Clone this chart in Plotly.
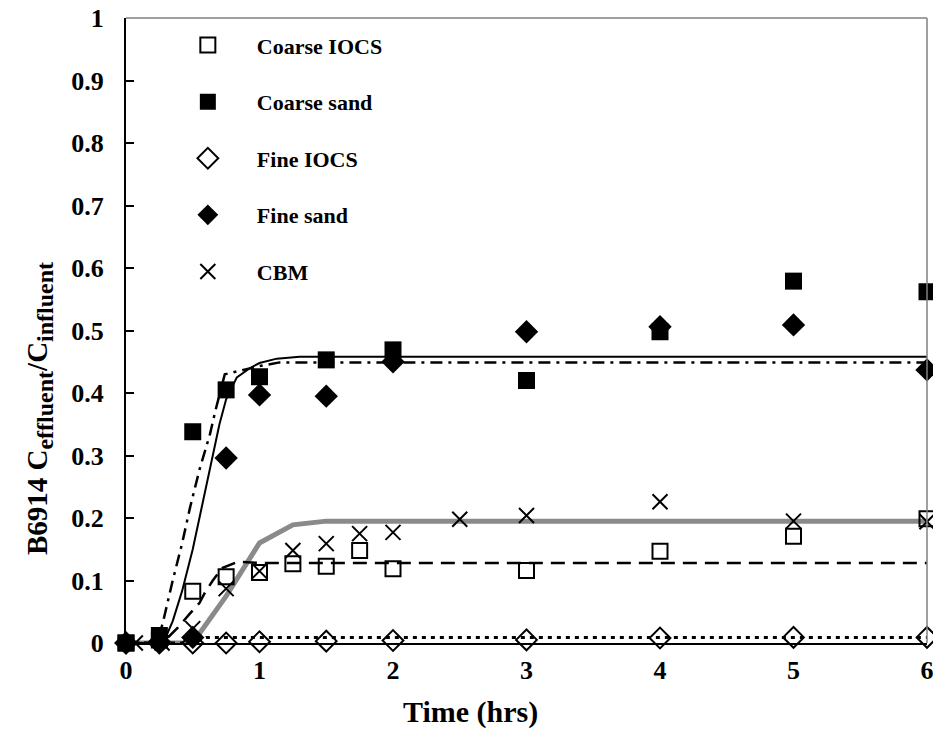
import plotly.graph_objects as go

# ---- data ----
t_coarse_iocs = [0, 0.25, 0.5, 0.75, 1, 1.25, 1.5, 1.75, 2, 3, 4, 5, 6]
y_coarse_iocs = [0, 0.005, 0.083, 0.106, 0.113, 0.127, 0.123, 0.148, 0.119, 0.116, 0.147, 0.171, 0.199]

t_coarse_sand = [0, 0.25, 0.5, 0.75, 1, 1.5, 2, 3, 4, 5, 6]
y_coarse_sand = [0, 0.012, 0.338, 0.405, 0.426, 0.453, 0.469, 0.42, 0.498, 0.579, 0.562]

t_fine_iocs = [0, 0.25, 0.5, 0.75, 1, 1.5, 2, 3, 4, 5, 6]
y_fine_iocs = [0, 0, 0, 0, 0.002, 0.003, 0.004, 0.005, 0.008, 0.009, 0.009]

t_fine_sand = [0, 0.25, 0.5, 0.75, 1, 1.5, 2, 3, 4, 5, 6]
y_fine_sand = [0, 0.002, 0.009, 0.296, 0.397, 0.395, 0.45, 0.498, 0.506, 0.509, 0.437]

t_cbm = [0.07, 0.27, 0.5, 0.75, 1, 1.25, 1.5, 1.75, 2, 2.5, 3, 4, 5, 6]
y_cbm = [0, 0, 0.023, 0.087, 0.115, 0.148, 0.159, 0.175, 0.177, 0.198, 0.204, 0.226, 0.195, 0.194]

# model curves
mx_coarse_sand = [0, 0.25, 0.3, 0.35, 0.42, 0.5, 0.55, 0.6, 0.65, 0.7, 0.75, 0.83, 0.93, 1.0, 1.13, 1.3, 6]
my_coarse_sand = [0, 0, 0.01, 0.035, 0.083, 0.15, 0.2, 0.25, 0.3, 0.35, 0.39, 0.425, 0.44, 0.448, 0.455, 0.458, 0.458]

mx_fine_sand = [0, 0.2, 0.25, 0.28, 0.35, 0.42, 0.48, 0.55, 0.63, 0.67, 0.74, 0.85, 1.0, 1.15, 6]
my_fine_sand = [0, 0, 0.012, 0.036, 0.1, 0.159, 0.217, 0.277, 0.335, 0.372, 0.43, 0.436, 0.443, 0.449, 0.449]

mx_coarse_iocs = [0, 0.25, 0.32, 0.39, 0.47, 0.55, 0.59, 0.65, 0.72, 0.84, 1.0, 6]
my_coarse_iocs = [0, 0, 0.01, 0.025, 0.045, 0.064, 0.08, 0.1, 0.12, 0.13, 0.128, 0.128]

mx_fine_iocs = [0, 0.5, 0.6, 6]
my_fine_iocs = [0, 0, 0.009, 0.009]

mx_cbm = [0, 0.5, 0.75, 1.0, 1.25, 1.5, 6]
my_cbm = [0, 0, 0.075, 0.16, 0.189, 0.195, 0.195]

x_ticks = [0, 1, 2, 3, 4, 5, 6]
y_ticks = [0, 0.1, 0.2, 0.3, 0.4, 0.5, 0.6, 0.7, 0.8, 0.9, 1]
y_tick_text = ["0", "0.1", "0.2", "0.3", "0.4", "0.5", "0.6", "0.7", "0.8", "0.9", "1"]

FONT = "Liberation Serif"

fig = go.Figure()

# model lines (no legend)
fig.add_trace(go.Scatter(x=mx_cbm, y=my_cbm, mode="lines", showlegend=False,
                         line=dict(color="#8a8a8a", width=5), cliponaxis=False))
fig.add_trace(go.Scatter(x=mx_coarse_sand, y=my_coarse_sand, mode="lines", showlegend=False,
                         line=dict(color="black", width=2), cliponaxis=False))
fig.add_trace(go.Scatter(x=mx_fine_sand, y=my_fine_sand, mode="lines", showlegend=False,
                         line=dict(color="black", width=2.5, dash="12px,6px,3px,6px"), cliponaxis=False))
fig.add_trace(go.Scatter(x=mx_coarse_iocs, y=my_coarse_iocs, mode="lines", showlegend=False,
                         line=dict(color="black", width=2.5, dash="14px,8px"), cliponaxis=False))
fig.add_trace(go.Scatter(x=mx_fine_iocs, y=my_fine_iocs, mode="lines", showlegend=False,
                         line=dict(color="black", width=3, dash="4px,5px"), cliponaxis=False))

# data markers
fig.add_trace(go.Scatter(x=t_coarse_iocs, y=y_coarse_iocs, mode="markers", name="Coarse IOCS",
                         legendgroup="a", cliponaxis=False,
                         marker=dict(symbol="square-open", size=15, color="black", line=dict(width=2))))
fig.add_trace(go.Scatter(x=t_coarse_sand, y=y_coarse_sand, mode="markers", name="Coarse sand",
                         legendgroup="b", cliponaxis=False,
                         marker=dict(symbol="square", size=17, color="black")))
fig.add_trace(go.Scatter(x=t_fine_iocs, y=y_fine_iocs, mode="markers", name="Fine IOCS",
                         legendgroup="c", cliponaxis=False,
                         marker=dict(symbol="diamond-open", size=16, color="black", line=dict(width=2))))
fig.add_trace(go.Scatter(x=t_fine_sand, y=y_fine_sand, mode="markers", name="Fine sand",
                         legendgroup="d", cliponaxis=False,
                         marker=dict(symbol="diamond", size=18, color="black")))
fig.add_trace(go.Scatter(x=t_cbm, y=y_cbm, mode="markers", name="CBM",
                         legendgroup="e", cliponaxis=False,
                         marker=dict(symbol="x-thin-open", size=15, color="black", line=dict(width=2, color="black"))))

fig.update_layout(
    width=933, height=745,
    margin=dict(l=126, r=6, t=18, b=102, autoexpand=False),
    paper_bgcolor="white", plot_bgcolor="white",
    font=dict(family=FONT, color="black"),
    showlegend=True,
    legend=dict(x=0.041, y=0.99, xanchor="left", yanchor="top",
                bgcolor="rgba(0,0,0,0)", tracegroupgap=25, itemwidth=88,
                font=dict(family=FONT, size=22, color="black", weight="bold")),
    xaxis=dict(range=[0, 6], tickvals=x_ticks, ticks="", showgrid=False, zeroline=False,
               showline=True, linecolor="black", linewidth=2, ticklabelstandoff=3,
               ticklabeloverflow="allow", automargin=False,
               tickfont=dict(family=FONT, size=26, weight="bold")),
    yaxis=dict(range=[0, 1], tickvals=y_ticks, ticktext=y_tick_text, ticks="inside", ticklen=8,
               tickwidth=1.5, tickcolor="black", showgrid=False, zeroline=False,
               showline=True, linecolor="black", linewidth=2, ticklabelstandoff=15,
               ticklabeloverflow="allow", automargin=False,
               tickfont=dict(family=FONT, size=26, weight="bold")),
)

# top/right gray frame
fig.add_shape(type="line", xref="paper", yref="paper", x0=0, x1=1, y0=1, y1=1,
              line=dict(color="#808080", width=1.5))
fig.add_shape(type="line", xref="paper", yref="paper", x0=1, x1=1, y0=0, y1=1,
              line=dict(color="#808080", width=1.5))

# x-axis title (offset left of centre, as in the reference)
fig.add_annotation(text="Time (hrs)", xref="paper", yref="paper",
                   x=0.43, y=-0.111, xanchor="center", yanchor="middle", showarrow=False,
                   font=dict(family=FONT, size=30, weight="bold", color="black"))

fig.add_annotation(
    text=("B6914 C<sub><span style='font-size:24px'>effluent</span></sub>"
          "/C<sub><span style='font-size:24px'>influent</span></sub>"),
    xref="paper", yref="paper", x=-0.108, y=0.375, xanchor="center", yanchor="middle",
    textangle=-90, showarrow=False,
    font=dict(family=FONT, size=29, weight="bold", color="black"))

fig.write_html("out.html")
